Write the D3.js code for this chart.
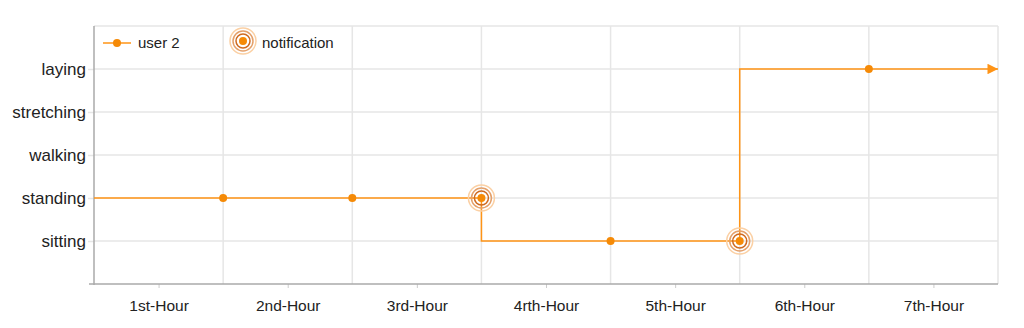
<!DOCTYPE html>
<html>
<head>
<meta charset="utf-8">
<script src="https://cdn.jsdelivr.net/npm/d3@7"></script>
<style>
  body { margin: 0; background: #fff; }
  svg { font-family: "Liberation Sans", Arial, sans-serif; }
</style>
</head>
<body>
<svg width="1024" height="328"></svg>
<script>
// categories and data
var hours = ['1st-Hour', '2nd-Hour', '3rd-Hour', '4rth-Hour', '5th-Hour', '6th-Hour', '7th-Hour'];
var states = ['sitting', 'standing', 'walking', 'stretching', 'laying'];
// user 2 state at each hour boundary (0..7)
var userSteps = [0, 1, 2, 3, 4, 5, 6, 7];
var userStates = ['standing', 'standing', 'standing', 'standing', 'sitting', 'sitting', 'laying', 'laying'];
var notifyAt = [3, 5];

var svg = d3.select('svg');
var margin = {top: 26, right: 26, bottom: 44, left: 94};
var width = 1024 - margin.left - margin.right;
var height = 328 - margin.top - margin.bottom;
var orange = '#ff9416';
var dotColor = '#f58a07';

var g = svg.append('g').attr('transform', 'translate(' + margin.left + ',' + margin.top + ')');

var x = d3.scaleLinear().domain([0, hours.length]).range([0, width]);
var y = d3.scaleLinear().domain([0, states.length + 1]).range([height, 0]);
function yState(s) { return y(states.indexOf(s) + 1); }

// grid
g.append('g').selectAll('line.h')
    .data(d3.range(1, states.length + 2))
    .enter().append('line')
    .attr('x1', 0).attr('x2', width)
    .attr('y1', function (d) { return y(d); }).attr('y2', function (d) { return y(d); })
    .attr('stroke', '#e6e6e6').attr('stroke-width', 1.5);

g.append('g').selectAll('line.v')
    .data(d3.range(1, hours.length + 1))
    .enter().append('line')
    .attr('x1', function (d) { return x(d); }).attr('x2', function (d) { return x(d); })
    .attr('y1', 0).attr('y2', height)
    .attr('stroke', '#e6e6e6').attr('stroke-width', 1.5);

// y axis
var yAxis = g.append('g')
    .call(d3.axisLeft(y)
        .tickValues(d3.range(1, states.length + 1))
        .tickFormat(function (d) { return states[d - 1]; })
        .tickSize(6).tickPadding(2));
yAxis.select('.domain').remove();
yAxis.selectAll('.tick line').attr('stroke', '#e6e6e6').attr('stroke-width', 1.5);
yAxis.selectAll('text').attr('font-size', 17).attr('fill', '#222');
g.append('line').attr('x1', 0).attr('x2', 0).attr('y1', 0).attr('y2', height + 1)
    .attr('stroke', '#aaa').attr('stroke-width', 1.5);

// x axis
var xAxis = g.append('g')
    .attr('transform', 'translate(0,' + height + ')')
    .call(d3.axisBottom(x)
        .tickValues(d3.range(hours.length).map(function (i) { return i + 0.5; }))
        .tickFormat(function (d, i) { return hours[i]; })
        .tickSize(4).tickPadding(12));
xAxis.select('.domain').remove();
xAxis.selectAll('.tick line').attr('stroke', '#ccc');
xAxis.selectAll('text').attr('font-size', 15.5).attr('fill', '#222');
g.append('line').attr('x1', -5).attr('x2', width).attr('y1', height).attr('y2', height)
    .attr('stroke', '#aaa').attr('stroke-width', 1.5);

// arrow marker
svg.append('defs').append('marker')
    .attr('id', 'arrow')
    .attr('viewBox', '0 0 10 10')
    .attr('refX', 10).attr('refY', 5)
    .attr('markerWidth', 9).attr('markerHeight', 7)
    .attr('markerUnits', 'strokeWidth')
    .attr('orient', 'auto')
    .append('path').attr('d', 'M0,0L10,5L0,10Z').attr('fill', orange);

var pts = userSteps.map(function (h, i) { return {h: h, s: userStates[i]}; });

var line = d3.line()
    .x(function (d) { return x(d.h); })
    .y(function (d) { return yState(d.s); })
    .curve(d3.curveStepBefore);

g.append('path')
    .datum(pts)
    .attr('d', line)
    .attr('fill', 'none')
    .attr('stroke', orange)
    .attr('stroke-width', 1.5)
    .attr('marker-end', 'url(#arrow)');

function drawNotify(sel, cx, cy) {
    sel.append('circle').attr('cx', cx).attr('cy', cy).attr('r', 13)
        .attr('fill', 'none').attr('stroke', '#fbd0a4').attr('stroke-width', 1.5);
    sel.append('circle').attr('cx', cx).attr('cy', cy).attr('r', 10)
        .attr('fill', 'none').attr('stroke', '#e4a06a').attr('stroke-width', 1.5);
    sel.append('circle').attr('cx', cx).attr('cy', cy).attr('r', 7)
        .attr('fill', 'none').attr('stroke', '#cf6a20').attr('stroke-width', 1.5);
}

var inner = pts.filter(function (d) { return d.h > 0 && d.h < hours.length; });
inner.forEach(function (d) {
    if (notifyAt.indexOf(d.h) >= 0) drawNotify(g, x(d.h), yState(d.s));
});
g.selectAll('circle.dot')
    .data(inner)
    .enter().append('circle')
    .attr('class', 'dot')
    .attr('cx', function (d) { return x(d.h); })
    .attr('cy', function (d) { return yState(d.s); })
    .attr('r', 4)
    .attr('fill', dotColor);

// legend
var lg = svg.append('g');
lg.append('line').attr('x1', 103).attr('x2', 131).attr('y1', 43).attr('y2', 43)
    .attr('stroke', orange).attr('stroke-width', 1.5);
lg.append('circle').attr('cx', 117).attr('cy', 43).attr('r', 4).attr('fill', dotColor);
lg.append('text').attr('x', 138).attr('y', 48).attr('font-size', 15).attr('fill', '#222').text('user 2');
drawNotify(lg, 243, 41);
lg.append('circle').attr('cx', 243).attr('cy', 41).attr('r', 4).attr('fill', dotColor);
lg.append('text').attr('x', 262).attr('y', 48).attr('font-size', 15).attr('fill', '#222').text('notification');
</script>
</body>
</html>
